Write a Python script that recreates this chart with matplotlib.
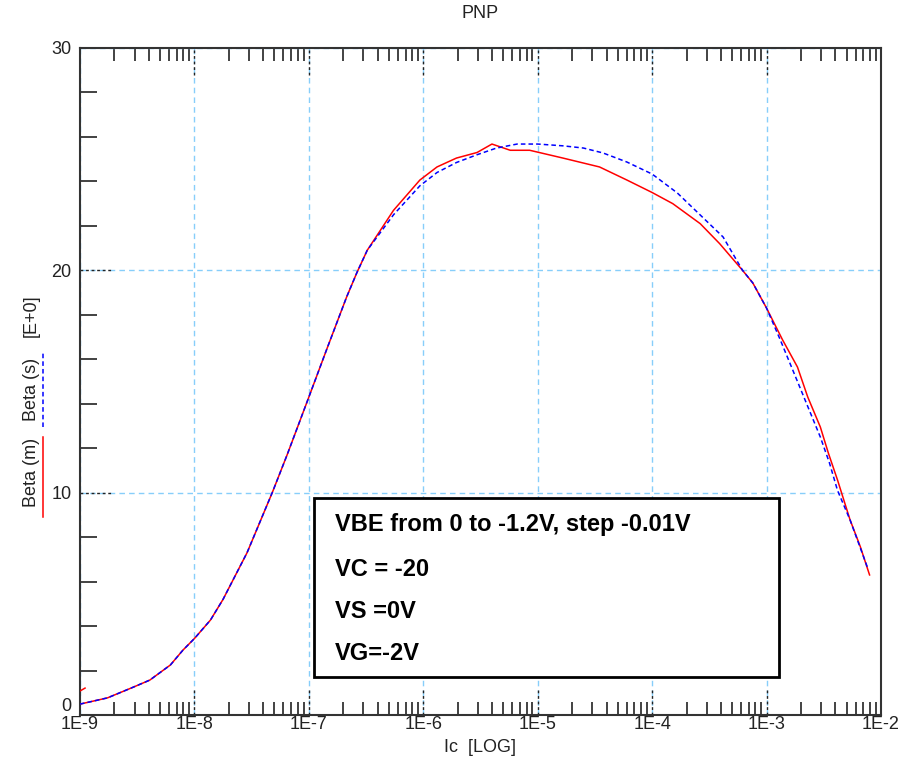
import numpy as np
import matplotlib
matplotlib.use("Agg")
import matplotlib.pyplot as plt
from matplotlib.ticker import LogLocator, MultipleLocator, FixedLocator, NullFormatter, FixedFormatter
from matplotlib.lines import Line2D
from matplotlib.patches import Rectangle
import matplotlib.transforms as mtransforms

plt.rcParams['font.family'] = ['Liberation Sans', 'DejaVu Sans']

# ---- data (log10 of Ic, Beta) ----
red_logx = [-9.00, -8.76, -8.54, -8.39, -8.21, -8.10, -8.00, -7.86, -7.75, -7.54, -7.32, -7.19,
            -7.00, -6.84, -6.67, -6.58, -6.49, -6.26, -6.03, -5.88, -5.71, -5.53, -5.40, -5.24,
            -5.07, -4.78, -4.46, -4.22, -4.00, -3.82, -3.58, -3.41, -3.21, -3.12, -3.00, -2.86,
            -2.73, -2.64, -2.53, -2.46, -2.38, -2.27, -2.18, -2.10]
red_beta = [0.49, 0.77, 1.24, 1.57, 2.25, 2.92, 3.44, 4.27, 5.20, 7.30, 10.0, 11.7,
            14.3, 16.5, 18.8, 19.9, 20.9, 22.7, 24.06, 24.65, 25.05, 25.3, 25.68, 25.4,
            25.4, 25.05, 24.65, 24.06, 23.5, 23.0, 22.1, 21.2, 20.0, 19.43, 18.3, 16.87,
            15.65, 14.3, 12.95, 11.78, 10.57, 8.77, 7.56, 6.3]
red_glitch_logx = [-9.00, -8.956]
red_glitch_beta = [1.08, 1.21]

blue_logx = [-9.00, -8.76, -8.54, -8.39, -8.21, -8.10, -8.00, -7.86, -7.75, -7.54, -7.32, -7.19,
             -7.00, -6.84, -6.67, -6.58, -6.49, -6.26, -6.03, -5.88, -5.71, -5.53, -5.36, -5.18,
             -5.00, -4.78, -4.60, -4.43, -4.22, -4.00, -3.78, -3.58, -3.38, -3.21, -3.12, -3.00,
             -2.88, -2.77, -2.65, -2.53, -2.45, -2.38, -2.27, -2.12]
blue_beta = [0.49, 0.77, 1.24, 1.57, 2.25, 2.92, 3.44, 4.27, 5.20, 7.30, 10.0, 11.7,
             14.3, 16.5, 18.8, 19.9, 20.9, 22.5, 23.8, 24.4, 24.85, 25.2, 25.5, 25.68,
             25.68, 25.6, 25.5, 25.28, 24.87, 24.33, 23.48, 22.49, 21.5, 20.0, 19.43, 18.3,
             16.87, 15.5, 14.0, 12.5, 11.33, 10.1, 8.77, 6.66]

xtick_vals = [1e-9, 1e-8, 1e-7, 1e-6, 1e-5, 1e-4, 1e-3, 1e-2]
xtick_labels = ['1E-9', '1E-8', '1E-7', '1E-6', '1E-5', '1E-4', '1E-3', '1E-2']
ytick_vals = [0, 10, 20, 30]
ytick_labels = ['0', '10', '20', '30']

info_lines = ['VBE from 0 to -1.2V, step -0.01V', 'VC = -20', 'VS =0V', 'VG=-2V']

W, H = 913, 770
fig = plt.figure(figsize=(W / 100, H / 100), dpi=100)
L, R, T, B = 80, 881, 48, 715
ax = fig.add_axes([L / W, 1 - B / H, (R - L) / W, (B - T) / H])

ax.set_xscale('log')
ax.set_xlim(1e-9, 1e-2)
ax.set_ylim(0, 30)

gridc = '#87CEFA'
ax.grid(True, which='major', color=gridc, linestyle=(0, (4, 3)), linewidth=1.0)
ax.set_axisbelow(True)

ax.plot(10 ** np.array(red_logx), red_beta, color='#FF0000', linewidth=1.1, zorder=3)
ax.plot(10 ** np.array(red_glitch_logx), red_glitch_beta, color='#FF0000', linewidth=1.1, zorder=3)
ax.plot(10 ** np.array(blue_logx), blue_beta, color='#0000FF', linewidth=1.1,
        linestyle=(0, (3, 2)), zorder=4)

# ticks
ax.xaxis.set_major_locator(FixedLocator(xtick_vals))
ax.xaxis.set_major_formatter(FixedFormatter(xtick_labels))
ax.xaxis.set_minor_locator(LogLocator(base=10, subs=np.arange(2, 10), numticks=20))
ax.xaxis.set_minor_formatter(NullFormatter())
ax.yaxis.set_major_locator(FixedLocator(ytick_vals))
# the "0" label is drawn separately (slightly raised so it clears "1E-9")
ax.yaxis.set_major_formatter(FixedFormatter([''] + ytick_labels[1:]))
ax.yaxis.set_minor_locator(MultipleLocator(2))

ax.tick_params(axis='x', which='major', length=0, labelsize=13, pad=1, colors='#222222')
ax.tick_params(axis='y', which='major', length=0, labelsize=13, pad=6, colors='#222222')
ax.tick_params(axis='x', which='minor', direction='in', length=9.5, width=1.2,
               top=True, bottom=True, color='#222222')
ax.tick_params(axis='y', which='minor', direction='in', length=12, width=1.2,
               left=True, right=False, color='#222222')

for s in ax.spines.values():
    s.set_linewidth(1.5)
    s.set_color('#333333')

tx = mtransforms.blended_transform_factory(ax.transData, ax.transAxes)
ty = mtransforms.blended_transform_factory(ax.transAxes, ax.transData)

zero_tr = ty + mtransforms.ScaledTranslation(-6 / 72, 0, fig.dpi_scale_trans)
ax.text(0, ytick_vals[0], ytick_labels[0], transform=zero_tr, ha='right', va='bottom',
        fontsize=13, color='#222222')

# short black dashed marks at major grid positions
for xv in xtick_vals[1:-1]:
    ax.plot([xv, xv], [0, 0.04], transform=tx, color='#222222', linewidth=1.0,
            linestyle=(0, (2, 2)), zorder=2, clip_on=False)
    ax.plot([xv, xv], [0.96, 1.0], transform=tx, color='#222222', linewidth=1.0,
            linestyle=(0, (2, 2)), zorder=2, clip_on=False)
for yv in ytick_vals[1:-1]:
    ax.plot([0, 0.04], [yv, yv], transform=ty, color='#222222', linewidth=1.0,
            linestyle=(0, (2, 2)), zorder=2, clip_on=False)

# info box
def fx(px):
    return px / W

def fy(py):
    return 1 - py / H

fig.patches.append(Rectangle((fx(314), fy(677)), fx(779) - fx(314), fy(498) - fy(677),
                             transform=fig.transFigure, facecolor='white',
                             edgecolor='black', linewidth=2, zorder=5))
for line, py in zip(info_lines, [525, 570, 612, 654]):
    fig.text(fx(335), fy(py), line, fontsize=17, fontweight='bold', ha='left',
             va='center', color='black', zorder=6)

# title and x label
fig.text(fx(480), fy(13), 'PNP', fontsize=13, ha='center', va='center', color='#222222')
fig.text(fx(480), fy(747), 'Ic  [LOG]', fontsize=13, ha='center', va='center', color='#222222')

# y label pieces with legend underlines
fig.text(fx(31), fy(472), 'Beta (m)', rotation=90, fontsize=13, ha='center', va='center', color='#222222')
fig.text(fx(31), fy(389), 'Beta (s)', rotation=90, fontsize=13, ha='center', va='center', color='#222222')
fig.text(fx(31), fy(316), '[E+0]', rotation=90, fontsize=13, ha='center', va='center', color='#222222')
fig.add_artist(Line2D([fx(43), fx(43)], [fy(517), fy(437)], transform=fig.transFigure,
                      color='#FF0000', linewidth=1.1))
fig.add_artist(Line2D([fx(43), fx(43)], [fy(427), fy(353)], transform=fig.transFigure,
                      color='#0000FF', linewidth=1.1, linestyle=(0, (3, 2))))

fig.savefig('out.png', dpi=100, facecolor='white')
